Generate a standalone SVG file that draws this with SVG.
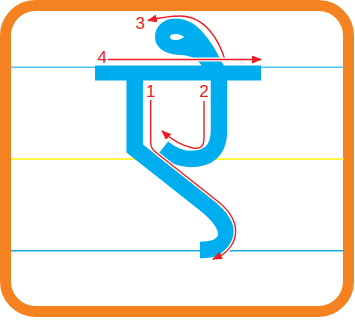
<svg xmlns="http://www.w3.org/2000/svg" width="355" height="326" viewBox="0 0 355 326">
<defs>
<style>
.guide{stroke-width:1.6;fill:none}
.ink{fill:none;stroke:#00aeef;stroke-width:16.5;stroke-linejoin:miter;stroke-miterlimit:10;stroke-linecap:butt}
.halo{fill:none;stroke:#ffffff;stroke-width:4;stroke-linecap:round}
.arrow{fill:none;stroke:#ed1c24;stroke-width:1.4}
.num{font-family:"Liberation Sans",Arial,sans-serif;font-size:17px;fill:#ed1c24;text-anchor:middle}
</style>
<marker id="ah" viewBox="0 0 10 8" refX="9" refY="4" markerWidth="10" markerHeight="8" markerUnits="userSpaceOnUse" orient="auto">
<path d="M0,0 L10,4 L0,8 Z" fill="#ed1c24"/>
</marker>
</defs>
<rect x="0" y="0" width="355" height="326" fill="#ffffff"/>
<rect id="frame" x="5.5" y="5.5" width="343" height="306" rx="30" ry="30" fill="#ffffff" stroke="#f58220" stroke-width="11"/>
<g id="guides">
<line class="guide" x1="11" y1="67.3" x2="344" y2="67.3" stroke="#4dc3f2"/>
<line class="guide" x1="11" y1="159" x2="344" y2="159" stroke="#fff200"/>
<line class="guide" x1="11" y1="250.7" x2="344" y2="250.7" stroke="#1ba9e1"/>
</g>
<g id="letter">
<rect x="95" y="65.5" width="166" height="15" fill="#00aeef"/>
<path class="ink" d="M134.7,80 V148.5 L205,204 C236,228 232,250 200,250"/>
<path class="ink" d="M219,80 V130 C219,152 207,159 190,159 C180,159 172,155 163,148"/>
<path d="M202,66 C197,59 192,56 182,55 C166,55 155,48 155,37 C155,26 164,18.5 175,18.5 C195,18.5 208,34 224,66 Z" fill="#00aeef"/>
<path d="M170,37 C170,34 175,33.5 179,34.5 C181.5,35.2 183,36.2 184,37 C182,38.2 180,40 176,40 C172,40.2 170,39.2 170,37 Z" fill="#ffffff"/>
</g>
<g id="connectors">
<path class="halo" d="M150.7,100 V143 C150.7,148 153,150 158,154 L216,200 C240,218 242,240 222,255"/>
<path class="arrow" marker-end="url(#ah)" d="M150.7,100 V143 C150.7,148 153,150 158,154 L216,200 C240,218 242,240 222,255 L213,259"/>
<path class="arrow" marker-end="url(#ah)" d="M204,101 V138 C204,147 200,149 193,148 C183,146 172,140 162,131"/>
<path class="halo" d="M225,60 C219,40 205,16 180,16 C172,16 163,17 156,19"/>
<path class="arrow" marker-end="url(#ah)" d="M225,60 C219,40 205,16 180,16 C172,16 163,17 148,20.5"/>
<path class="halo" d="M110,59.5 H255"/>
<path class="arrow" marker-end="url(#ah)" d="M108,59.5 H261"/>
</g>
<g id="labels">
<text class="num" x="150.7" y="96.7">1</text>
<text class="num" x="204" y="96.7">2</text>
<text class="num" x="140.3" y="28.5">3</text>
<text class="num" x="102.3" y="62.8">4</text>
</g>
</svg>
